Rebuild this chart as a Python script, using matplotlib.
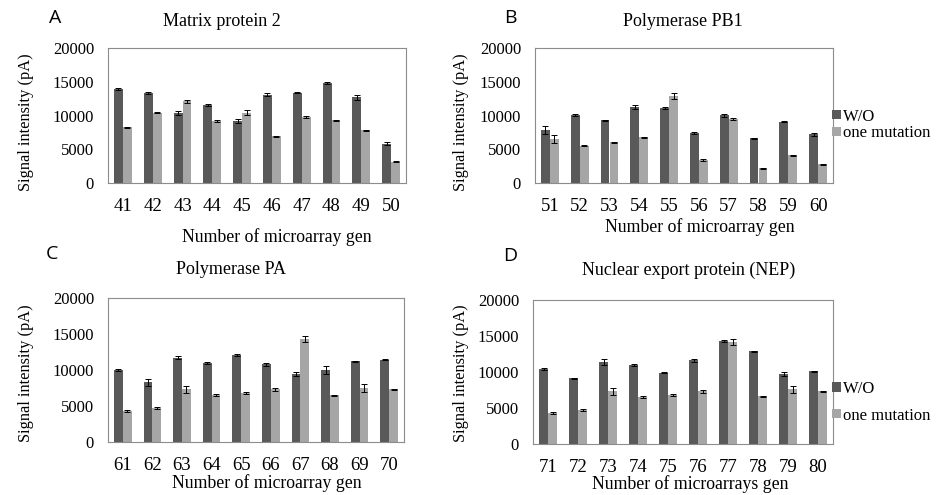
import matplotlib
matplotlib.use("Agg")
import matplotlib.pyplot as plt
import numpy as np

W, H = 940, 495

SERIES = ["W/O", "one mutation"]
COLORS = ["#595959", "#a6a6a6"]

# panel A - Matrix protein 2
genes_a = ["41", "42", "43", "44", "45", "46", "47", "48", "49", "50"]
wo_a = [13900, 13300, 10300, 11500, 9200, 13100, 13400, 14800, 12700, 5850]
mut_a = [8250, 10400, 12100, 9200, 10400, 6900, 9800, 9300, 7800, 3150]
wo_a_err = [150, 150, 300, 150, 300, 250, 100, 100, 400, 150]
mut_a_err = [100, 100, 250, 150, 400, 100, 100, 100, 100, 80]

# panel B - Polymerase PB1
genes_b = ["51", "52", "53", "54", "55", "56", "57", "58", "59", "60"]
wo_b = [7900, 10050, 9300, 11250, 11100, 7400, 10000, 6600, 9100, 7200]
mut_b = [6500, 5550, 6000, 6750, 12900, 3400, 9500, 2150, 4100, 2750]
wo_b_err = [600, 100, 100, 300, 150, 100, 200, 80, 100, 200]
mut_b_err = [600, 80, 100, 80, 450, 200, 100, 80, 80, 100]

# panel C - Polymerase PA
genes_c = ["61", "62", "63", "64", "65", "66", "67", "68", "69", "70"]
wo_c = [10000, 8300, 11700, 11000, 12100, 10800, 9400, 10000, 11200, 11450]
mut_c = [4300, 4700, 7300, 6500, 6800, 7300, 14300, 6500, 7500, 7300]
wo_c_err = [80, 500, 200, 100, 150, 200, 300, 500, 100, 100]
mut_c_err = [150, 150, 500, 150, 100, 150, 400, 80, 600, 80]

# panel D - Nuclear export protein
genes_d = ["71", "72", "73", "74", "75", "76", "77", "78", "79", "80"]
wo_d = [10400, 9150, 11400, 11000, 9900, 11600, 14250, 12900, 9700, 10100]
mut_d = [4300, 4750, 7300, 6500, 6800, 7300, 14200, 6600, 7600, 7300]
wo_d_err = [150, 80, 450, 150, 80, 250, 150, 80, 300, 100]
mut_d_err = [150, 150, 500, 100, 100, 150, 400, 80, 500, 80]

YTICKS = [0, 5000, 10000, 15000, 20000]

plt.rcParams["font.family"] = ["Liberation Serif", "DejaVu Serif"]

fig = plt.figure(figsize=(W / 100, H / 100), dpi=100)


def px_box(x0, y0, x1, y1):
    return [x0 / W, 1 - y1 / H, (x1 - x0) / W, (y1 - y0) / H]


def txt(x, y, s, **kw):
    fig.text(x / W, 1 - y / H, s, ha="center", va="center", **kw)


def draw_panel(box, genes, wo, mut, wo_err, mut_err):
    ax = fig.add_axes(box)
    x = np.arange(len(genes))
    w = 0.3
    ek = dict(ecolor="black", elinewidth=0.7, capsize=2.2, capthick=0.7)
    ax.bar(x - w / 2, wo, w, color=COLORS[0], yerr=wo_err, error_kw=ek, label=SERIES[0])
    ax.bar(x + w / 2, mut, w, color=COLORS[1], yerr=mut_err, error_kw=ek, label=SERIES[1])
    ax.set_xlim(-0.5, len(genes) - 0.5)
    ax.set_ylim(0, 20000)
    ax.set_yticks(YTICKS)
    ax.set_xticks(x)
    ax.set_xticklabels(genes)
    ax.tick_params(axis="y", length=0, pad=10, labelsize=12)
    ax.tick_params(axis="x", length=0, pad=11, labelsize=13.5)
    for sp in ax.spines.values():
        sp.set_color("#8c8c8c")
        sp.set_linewidth(0.8)
    return ax


ax_a = draw_panel(px_box(108, 48, 406, 183), genes_a, wo_a, mut_a, wo_a_err, mut_a_err)
ax_b = draw_panel(px_box(535, 48, 833, 183), genes_b, wo_b, mut_b, wo_b_err, mut_b_err)
ax_c = draw_panel(px_box(108, 298, 404, 442), genes_c, wo_c, mut_c, wo_c_err, mut_c_err)
ax_d = draw_panel(px_box(533, 300, 833, 444), genes_d, wo_d, mut_d, wo_d_err, mut_d_err)

leg_kw = dict(loc="center left", frameon=False, fontsize=12, handlelength=0.5,
              handleheight=0.5, handletextpad=0.15, borderaxespad=0)
ax_b.legend(bbox_to_anchor=(0.975, 0.43), labelspacing=0.05, **leg_kw)
ax_d.legend(bbox_to_anchor=(0.975, 0.29), labelspacing=0.65, **leg_kw)

# panel letters
letter_font = ["Open Sans", "DejaVu Sans"]
txt(55, 18, "A", fontsize=14, family=letter_font)
txt(510, 18, "B", fontsize=14, family=letter_font)
txt(52, 254, "C", fontsize=14, family=letter_font)
txt(510, 256, "D", fontsize=14, family=letter_font)

# titles
txt(222, 22, "Matrix protein 2", fontsize=13)
txt(683, 22, "Polymerase PB1", fontsize=13)
txt(231, 270, "Polymerase PA", fontsize=13)
txt(689, 270, "Nuclear export protein (NEP)", fontsize=13)

# y labels
for xp, yp in [(26, 122), (461, 122), (26, 373), (461, 373)]:
    txt(xp, yp, "Signal intensity (pA)", fontsize=11.8, rotation=90)

# x labels
txt(277, 237, "Number of microarray gen", fontsize=12.8)
txt(700, 227, "Number of microarray gen", fontsize=12.8)
txt(267, 483, "Number of microarray gen", fontsize=12.8)
txt(690, 484, "Number of microarrays gen", fontsize=12.8)

fig.savefig("out.png", dpi=100)
